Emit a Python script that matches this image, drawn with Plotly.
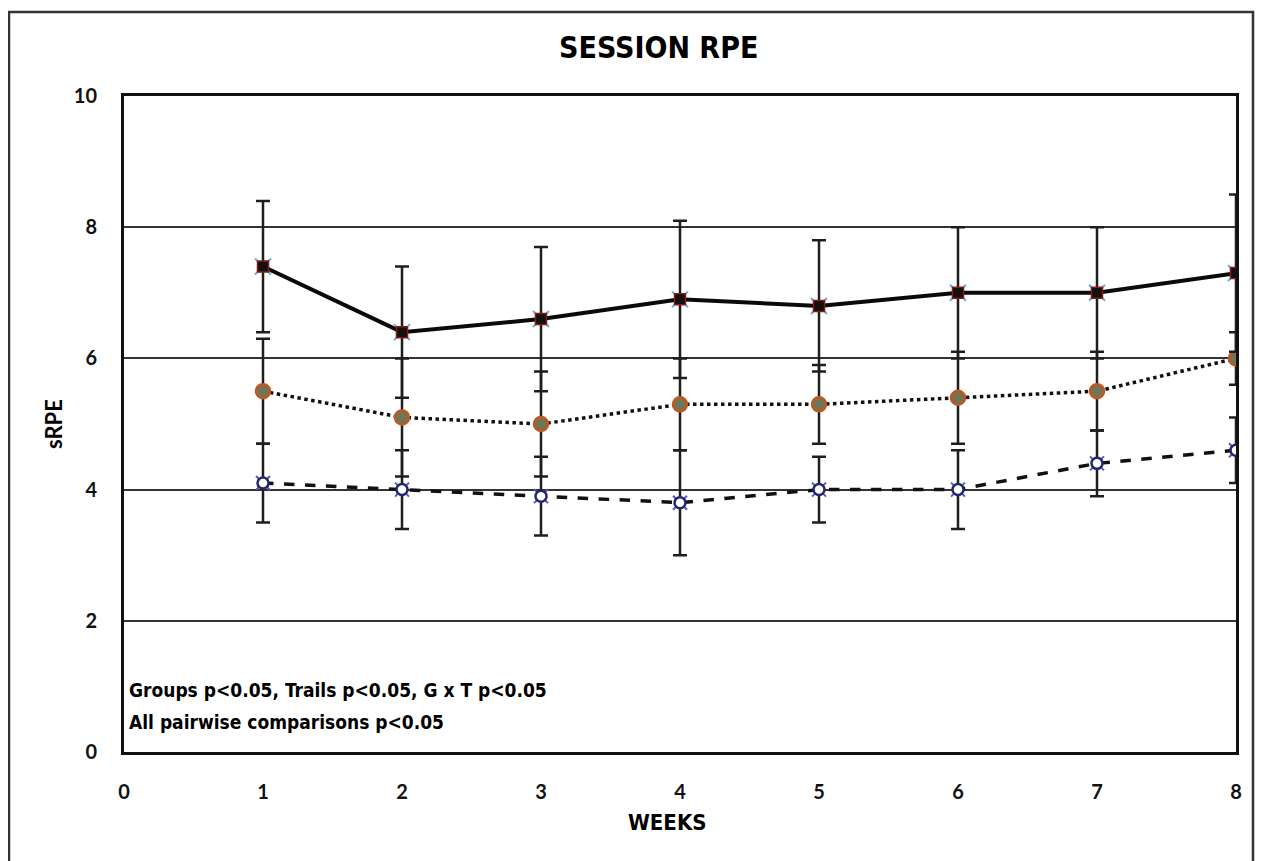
import plotly.graph_objects as go

weeks = [1, 2, 3, 4, 5, 6, 7, 8]

high_mean = [7.4, 6.4, 6.6, 6.9, 6.8, 7.0, 7.0, 7.3]
high_sd = [1.0, 1.0, 1.1, 1.2, 1.0, 1.0, 1.0, 1.2]

mid_mean = [5.5, 5.1, 5.0, 5.3, 5.3, 5.4, 5.5, 6.0]
mid_sd = [0.8, 0.9, 0.8, 0.7, 0.6, 0.7, 0.6, 0.4]

low_mean = [4.1, 4.0, 3.9, 3.8, 4.0, 4.0, 4.4, 4.6]
low_sd = [0.6, 0.6, 0.6, 0.8, 0.5, 0.6, 0.5, 0.5]

x_ticks = [0, 1, 2, 3, 4, 5, 6, 7, 8]
y_ticks = [0, 2, 4, 6, 8, 10]

title_text = "SESSION RPE"
x_title = "WEEKS"
y_title = "sRPE"
note_lines = ["Groups p<0.05, Trails p<0.05, G x T p<0.05",
              "All pairwise comparisons p<0.05"]

COND = "DejaVu Sans Condensed, Liberation Sans Narrow, sans-serif"
TICKF = "Lato, Carlito, Open Sans, sans-serif"

OFF = 8  # page body margin
W, H = 1264, 861
# plot area in page pixels: x 124..1236, y 96..752
L = 124 - OFF
T = 96 - OFF
R = W - (1236 - OFF)
B = H - (752 - OFF)
pw, ph = W - L - R, H - T - B


def px(x):
    return (x - OFF - L) / pw


def py(y):
    return (H - B - (y - OFF)) / ph


fig = go.Figure()


def err(sd):
    return dict(type="data", array=sd, visible=True, color="#1e1e1e",
                thickness=2.5, width=7)


# low series (dashed, white circles)
fig.add_trace(go.Scatter(x=weeks, y=low_mean, mode="lines",
                         line=dict(color="#111", width=3.5, dash="dash"),
                         error_y=err(low_sd), showlegend=False))
fig.add_trace(go.Scatter(x=weeks, y=low_mean, mode="markers",
                         marker=dict(symbol="x-thin", size=14, color="#6a4fb0",
                                     line=dict(width=2, color="#6a4fb0")),
                         showlegend=False))
fig.add_trace(go.Scatter(x=weeks, y=low_mean, mode="markers",
                         marker=dict(symbol="circle", size=11, color="white",
                                     line=dict(width=2.5, color="#1f2a6b")),
                         showlegend=False))

# mid series (dotted, olive circles)
fig.add_trace(go.Scatter(x=weeks, y=mid_mean, mode="lines",
                         line=dict(color="#111", width=3.5, dash="dot"),
                         error_y=err(mid_sd), showlegend=False))
fig.add_trace(go.Scatter(x=weeks, y=mid_mean, mode="markers",
                         marker=dict(symbol="circle", size=14, color="#6f7658",
                                     line=dict(width=2.5, color="#c4561e")),
                         showlegend=False))

# high series (solid, black squares)
fig.add_trace(go.Scatter(x=weeks, y=high_mean, mode="lines",
                         line=dict(color="#0a0a0a", width=4),
                         error_y=err(high_sd), showlegend=False))
fig.add_trace(go.Scatter(x=weeks, y=high_mean, mode="markers",
                         marker=dict(symbol="x-thin", size=16, color="#5fb2de",
                                     line=dict(width=2, color="#5fb2de")),
                         showlegend=False))
fig.add_trace(go.Scatter(x=weeks, y=high_mean, mode="markers",
                         marker=dict(symbol="square", size=11, color="#111",
                                     line=dict(width=1.5, color="#8a1a10")),
                         showlegend=False))

shapes = [
    # outer frame
    dict(type="rect", xref="paper", yref="paper",
         x0=px(9), x1=px(1253), y0=py(900), y1=py(12),
         line=dict(color="#333", width=2.5), layer="below"),
]

annotations = [
    dict(text=title_text, x=px(658), y=py(48), xref="paper", yref="paper",
         showarrow=False, xanchor="center", yanchor="middle",
         font=dict(family=COND, size=30, color="black", weight="bold")),
    dict(text=x_title, x=px(667), y=py(822), xref="paper", yref="paper",
         showarrow=False, xanchor="center", yanchor="middle",
         font=dict(family=COND, size=22, color="black", weight="bold")),
    dict(text=y_title, x=px(53), y=py(424), xref="paper", yref="paper",
         showarrow=False, xanchor="center", yanchor="middle", textangle=-90,
         font=dict(family=TICKF, size=22, color="black", weight="bold")),
]
for i, line in enumerate(note_lines):
    annotations.append(dict(text=line, x=px(127), y=py(690 + 32 * i),
                            xref="paper", yref="paper", showarrow=False,
                            xanchor="left", yanchor="middle",
                            font=dict(family=COND, size=19, color="black",
                                      weight="bold")))

fig.update_layout(
    width=W, height=H,
    margin=dict(l=L, r=R, t=T, b=B),
    paper_bgcolor="white", plot_bgcolor="white",
    shapes=shapes, annotations=annotations,
    xaxis=dict(range=[0, 8], tickvals=x_ticks, showgrid=False, zeroline=False,
               showline=True, linecolor="#111", linewidth=3, mirror=True,
               ticks="", ticklabelstandoff=20,
               tickfont=dict(family=TICKF, size=20, color="#111", weight="bold")),
    yaxis=dict(range=[0, 10], tickvals=y_ticks, showgrid=True,
               gridcolor="#333333", gridwidth=2, zeroline=False,
               showline=True, linecolor="#111", linewidth=3, mirror=True,
               ticks="", ticklabelstandoff=20,
               tickfont=dict(family=TICKF, size=20, color="#111", weight="bold")),
)

fig.write_html("out.html")
